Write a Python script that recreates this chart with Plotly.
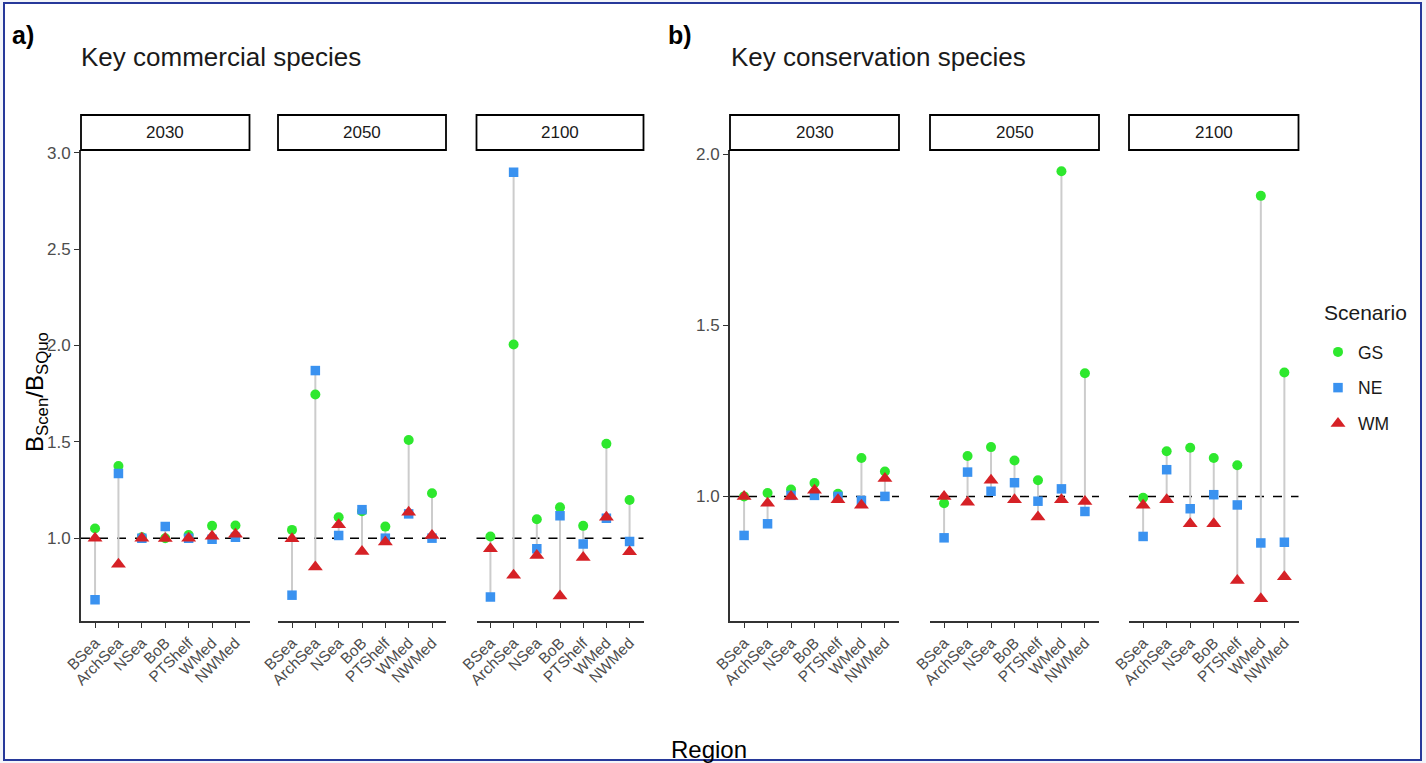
import plotly.graph_objects as go

# ---------------- data ----------------
regions = ["BSea", "ArchSea", "NSea", "BoB", "PTShelf", "WMed", "NWMed"]
years = ["2030", "2050", "2100"]
scenarios = ["GS", "NE", "WM"]

# Key commercial species
com_GS_2030 = [1.05, 1.375, 1.005, 1.00, 1.016, 1.064, 1.066]
com_NE_2030 = [0.68, 1.336, 1.00, 1.06, 1.00, 0.995, 1.005]
com_WM_2030 = [1.00, 0.865, 1.00, 0.998, 1.00, 1.01, 1.02]

com_GS_2050 = [1.043, 1.746, 1.109, 1.14, 1.06, 1.51, 1.233]
com_NE_2050 = [0.704, 1.87, 1.014, 1.148, 1.00, 1.126, 1.00]
com_WM_2050 = [0.997, 0.85, 1.07, 0.931, 0.98, 1.134, 1.014]

com_GS_2100 = [1.009, 2.005, 1.098, 1.16, 1.064, 1.49, 1.198]
com_NE_2100 = [0.695, 2.90, 0.945, 1.117, 0.97, 1.103, 0.983]
com_WM_2100 = [0.945, 0.807, 0.91, 0.70, 0.90, 1.109, 0.93]

# Key conservation species
con_GS_2030 = [1.00, 1.01, 1.02, 1.039, 1.008, 1.112, 1.073]
con_NE_2030 = [0.886, 0.92, 1.003, 1.003, 1.00, 0.988, 1.00]
con_WM_2030 = [1.00, 0.98, 1.00, 1.018, 0.99, 0.974, 1.052]

con_GS_2050 = [0.98, 1.118, 1.144, 1.105, 1.047, 1.95, 1.36]
con_NE_2050 = [0.879, 1.071, 1.015, 1.04, 0.986, 1.022, 0.956]
con_WM_2050 = [1.00, 0.983, 1.047, 0.99, 0.94, 0.99, 0.985]

con_GS_2100 = [0.996, 1.132, 1.142, 1.112, 1.091, 1.878, 1.362]
con_NE_2100 = [0.883, 1.078, 0.964, 1.005, 0.975, 0.864, 0.866]
con_WM_2100 = [0.974, 0.99, 0.92, 0.92, 0.754, 0.701, 0.765]

panels = [
    {
        "label": "a)", "title": "Key commercial species",
        "data": {
            "2030": {"GS": com_GS_2030, "NE": com_NE_2030, "WM": com_WM_2030},
            "2050": {"GS": com_GS_2050, "NE": com_NE_2050, "WM": com_WM_2050},
            "2100": {"GS": com_GS_2100, "NE": com_NE_2100, "WM": com_WM_2100},
        },
        "yrange": [0.57, 3.015], "yticks": [1.0, 1.5, 2.0, 2.5, 3.0],
    },
    {
        "label": "b)", "title": "Key conservation species",
        "data": {
            "2030": {"GS": con_GS_2030, "NE": con_NE_2030, "WM": con_WM_2030},
            "2050": {"GS": con_GS_2050, "NE": con_NE_2050, "WM": con_WM_2050},
            "2100": {"GS": con_GS_2100, "NE": con_NE_2100, "WM": con_WM_2100},
        },
        "yrange": [0.636, 2.012], "yticks": [1.0, 1.5, 2.0],
    },
]

# ---------------- style ----------------
W, H = 1426, 763
FONT = "Liberation Sans, Arial, sans-serif"
styles = {
    "GS": dict(color="#2ee82e", symbol="circle", size=10),
    "NE": dict(color="#3a92f0", symbol="square", size=9.5),
    "WM": dict(color="#d62126", symbol="triangle-up", size=13),
}
# facet x extents in pixels
facet_px = [[(81, 249.5), (278, 446), (476.5, 643.5)],
            [(730, 899), (930, 1099), (1129, 1298.5)]]
y_px = (150, 621)

fig = go.Figure()
layout = dict(
    width=W, height=H,
    margin=dict(l=0, r=0, t=0, b=0, autoexpand=False),
    paper_bgcolor="#f3f5fa",
    plot_bgcolor="rgba(0,0,0,0)",
    font=dict(family=FONT, color="#4d4d4d"),
    showlegend=True,
)
shapes = []
annotations = []

# page frame
shapes.append(dict(type="rect", xref="paper", yref="paper",
                   x0=4 / W, x1=1421 / W, y0=1 - 760 / H, y1=1 - 3 / H,
                   line=dict(color="#27399a", width=2), fillcolor="white", layer="below"))

ydom = [1 - y_px[1] / H, 1 - y_px[0] / H]
plot_h = y_px[1] - y_px[0]
strip_top = 1 + 35 / plot_h
idx = 0
for p, panel in enumerate(panels):
    for k, yr in enumerate(years):
        idx += 1
        xa = "x" if idx == 1 else f"x{idx}"
        ya = "y" if idx == 1 else f"y{idx}"
        x0p, x1p = facet_px[p][k]
        first = (k == 0)
        layout["xaxis" if idx == 1 else f"xaxis{idx}"] = dict(
            domain=[x0p / W, x1p / W], anchor=ya, type="category",
            categoryorder="array", categoryarray=regions,
            range=[-0.6, 6.6], showgrid=False, zeroline=False,
            showline=True, linecolor="#333333", linewidth=1.8,
            ticks="outside", ticklen=5, tickcolor="#333333", tickwidth=1.3,
            tickangle=-45, tickfont=dict(size=15.5, color="#4d4d4d", family=FONT),
            fixedrange=True,
        )
        layout["yaxis" if idx == 1 else f"yaxis{idx}"] = dict(
            domain=ydom, anchor=xa, range=panel["yrange"],
            tickvals=panel["yticks"], ticktext=[f"{v:.1f}" for v in panel["yticks"]],
            showgrid=False, zeroline=False,
            showline=first, linecolor="#333333", linewidth=1.8,
            ticks="outside" if first else "", ticklen=5, tickcolor="#333333", tickwidth=1.3,
            showticklabels=first, tickfont=dict(size=17, color="#4d4d4d", family=FONT),
            fixedrange=True,
        )
        d = panel["data"][yr]
        # gray ranges between min and max of scenarios
        sx, sy = [], []
        for i, r in enumerate(regions):
            vals = [d[s][i] for s in scenarios]
            sx += [r, r, None]
            sy += [min(vals), max(vals), None]
        fig.add_trace(go.Scatter(x=sx, y=sy, mode="lines", xaxis=xa, yaxis=ya,
                                 line=dict(color="#cccccc", width=2),
                                 showlegend=False, hoverinfo="skip"))
        for s in scenarios:
            st = styles[s]
            fig.add_trace(go.Scatter(
                x=regions, y=d[s], mode="markers", name=s, xaxis=xa, yaxis=ya,
                legendgroup=s, showlegend=(idx == 1),
                marker=dict(color=st["color"], symbol=st["symbol"], size=st["size"],
                            line=dict(width=0)),
            ))
        # dashed reference line
        shapes.append(dict(type="line", xref=f"{xa} domain", yref=ya,
                           x0=0, x1=1, y0=1, y1=1,
                           line=dict(color="black", width=1.5, dash="dash"), layer="below"))
        # strip
        shapes.append(dict(type="rect", xref=f"{xa} domain", yref=f"{ya} domain",
                           x0=0, x1=1, y0=1.0, y1=strip_top,
                           line=dict(color="black", width=1.8), fillcolor="white"))
        annotations.append(dict(text=yr, xref=f"{xa} domain", yref=f"{ya} domain",
                                x=0.5, y=(1 + strip_top) / 2, showarrow=False,
                                xanchor="center", yanchor="middle",
                                font=dict(size=17, color="#1a1a1a", family=FONT)))
    # panel label and title
    lx = 10 if p == 0 else 666
    tx = 79 if p == 0 else 729
    annotations.append(dict(text=f"<b>{panel['label']}</b>", xref="paper", yref="paper",
                            x=lx / W, y=1 - 35 / H, xanchor="left", yanchor="middle",
                            showarrow=False, font=dict(size=25, color="black", family=FONT)))
    annotations.append(dict(text=panel["title"], xref="paper", yref="paper",
                            x=tx / W, y=1 - 57 / H, xanchor="left", yanchor="middle",
                            showarrow=False, font=dict(size=26, color="#1a1a1a", family=FONT)))

# axis titles
annotations.append(dict(text="B<sub>Scen</sub>/B<sub>SQuo</sub>", xref="paper", yref="paper",
                        x=36 / W, y=1 - 392 / H, textangle=-90, showarrow=False,
                        xanchor="center", yanchor="middle",
                        font=dict(size=24, color="black", family=FONT)))
annotations.append(dict(text="Region", xref="paper", yref="paper",
                        x=709 / W, y=1 - 749 / H, showarrow=False,
                        xanchor="center", yanchor="middle",
                        font=dict(size=24, color="black", family=FONT)))
# legend title
annotations.append(dict(text="Scenario", xref="paper", yref="paper",
                        x=1322 / W, y=1 - 313 / H, showarrow=False,
                        xanchor="left", yanchor="middle",
                        font=dict(size=21, color="#1a1a1a", family=FONT)))

layout["shapes"] = shapes
layout["annotations"] = annotations
layout["legend"] = dict(
    x=1318 / W, y=1 - 334 / H, xanchor="left", yanchor="top",
    bgcolor="rgba(0,0,0,0)",
    font=dict(size=17.5, color="#1a1a1a", family=FONT),
    tracegroupgap=10, itemwidth=30,
)
fig.update_layout(**layout)
fig.write_html(
    "out.html",
    config={"displayModeBar": False},
    post_script="document.body.style.margin='0px';document.body.style.padding='0px';"
                "document.body.style.overflow='hidden';",
)
